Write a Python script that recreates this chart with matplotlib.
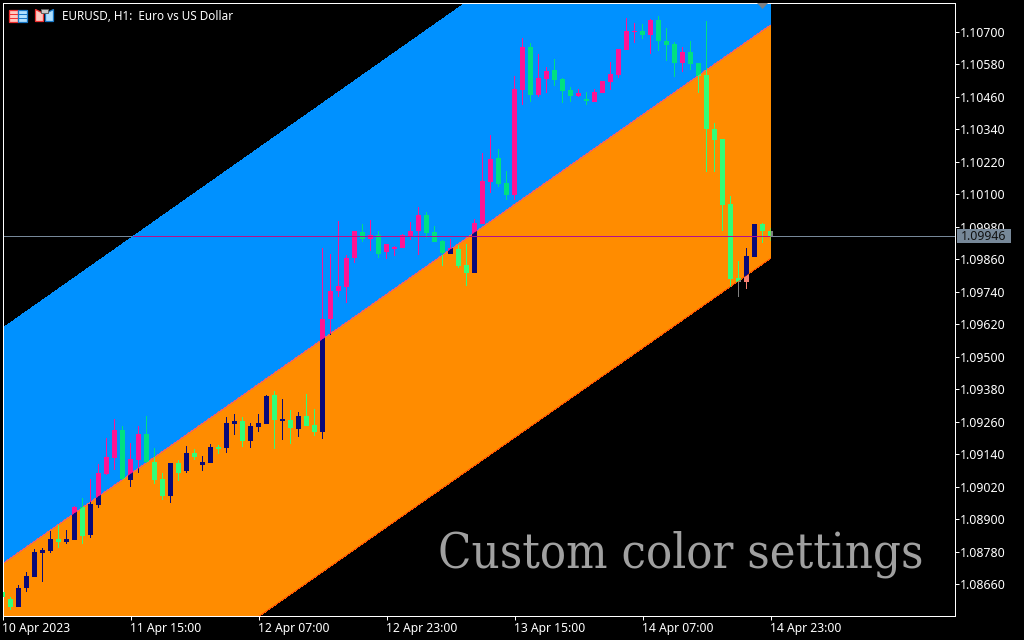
import matplotlib
matplotlib.use('Agg')
import numpy as np
import matplotlib.pyplot as plt
from matplotlib.patches import Rectangle, Polygon

# candle values, bar 0 = 10 Apr 2023
body_top = [1.08630, 1.08605, 1.08645, 1.08690, 1.08778, 1.08786, 1.08826, 1.08826, 1.08826, 1.08945,
            1.08945, 1.08956, 1.09070, 1.09128, 1.09229, 1.09229, 1.09122, 1.09214, 1.09214, 1.09111,
            1.09048, 1.09107, 1.09107, 1.09144, 1.09144, 1.09111, 1.09166, 1.09168, 1.09255, 1.09262,
            1.09262, 1.09244, 1.09255, 1.09355, 1.09359, 1.09270, 1.09266, 1.09281, 1.09281, 1.09248,
            1.09639, 1.09743, 1.09761, 1.09865, 1.09965, 1.09961, 1.09950, 1.09950, 1.09916, 1.09905,
            1.09950, 1.09965, 1.10024, 1.10024, 1.09961, 1.09928, 1.09902, 1.09898, 1.09839, 1.09994,
            1.10149, 1.10230, 1.10234, 1.10142, 1.10489, 1.10644, 1.10644, 1.10530, 1.10556, 1.10559,
            1.10526, 1.10485, 1.10474, 1.10452, 1.10478, 1.10519, 1.10545, 1.10637, 1.10703, 1.10703,
            1.10703, 1.10744, 1.10744, 1.10666, 1.10655, 1.10626, 1.10626, 1.10585, 1.10541, 1.10341,
            1.10304, 1.10064, 1.09791, 1.09872, 1.09990, 1.09990, 1.09965]
body_bot = [1.08611, 1.08575, 1.08575, 1.08645, 1.08686, 1.08775, 1.08782, 1.08815, 1.08815, 1.08823,
            1.08837, 1.08841, 1.08952, 1.09067, 1.09126, 1.09048, 1.09044, 1.09118, 1.09111, 1.09044,
            1.08985, 1.08985, 1.09070, 1.09078, 1.09128, 1.09100, 1.09107, 1.09158, 1.09163, 1.09251,
            1.09188, 1.09188, 1.09240, 1.09251, 1.09266, 1.09262, 1.09237, 1.09233, 1.09244, 1.09222,
            1.09222, 1.09639, 1.09743, 1.09758, 1.09865, 1.09935, 1.09935, 1.09880, 1.09887, 1.09898,
            1.09902, 1.09946, 1.09965, 1.09957, 1.09924, 1.09883, 1.09880, 1.09835, 1.09809, 1.09809,
            1.09990, 1.10145, 1.10138, 1.10097, 1.10097, 1.10485, 1.10467, 1.10467, 1.10526, 1.10522,
            1.10482, 1.10463, 1.10463, 1.10445, 1.10441, 1.10474, 1.10515, 1.10541, 1.10633, 1.10700,
            1.10689, 1.10689, 1.10666, 1.10652, 1.10585, 1.10585, 1.10581, 1.10537, 1.10341, 1.10301,
            1.10060, 1.09787, 1.09776, 1.09776, 1.09869, 1.09965, 1.09946]
highs = [1.08630, 1.08613, 1.08656, 1.08704, 1.08789, 1.08793, 1.08856, 1.08878, 1.08860, 1.08948,
         1.08978, 1.09048, 1.09103, 1.09200, 1.09269, 1.09244, 1.09180, 1.09244, 1.09281, 1.09163,
         1.09070, 1.09107, 1.09118, 1.09170, 1.09159, 1.09133, 1.09177, 1.09174, 1.09277, 1.09288,
         1.09277, 1.09255, 1.09288, 1.09359, 1.09373, 1.09344, 1.09303, 1.09296, 1.09362, 1.09307,
         1.09902, 1.09880, 1.10001, 1.09876, 1.09965, 1.09990, 1.10005, 1.09965, 1.09916, 1.09909,
         1.09953, 1.09998, 1.10053, 1.10035, 1.09983, 1.09931, 1.09935, 1.09913, 1.09916, 1.10009,
         1.10253, 1.10319, 1.10267, 1.10186, 1.10537, 1.10678, 1.10659, 1.10618, 1.10570, 1.10600,
         1.10530, 1.10496, 1.10489, 1.10478, 1.10489, 1.10519, 1.10589, 1.10637, 1.10752, 1.10733,
         1.10729, 1.10748, 1.10759, 1.10714, 1.10663, 1.10644, 1.10666, 1.10585, 1.10740, 1.10363,
         1.10304, 1.10094, 1.09854, 1.09902, 1.09990, 1.09994, 1.09976]
lows = [1.08611, 1.08564, 1.08575, 1.08630, 1.08686, 1.08667, 1.08775, 1.08793, 1.08808, 1.08823,
        1.08808, 1.08830, 1.08941, 1.09063, 1.09081, 1.09044, 1.09018, 1.09070, 1.09106, 1.09030,
        1.08970, 1.08959, 1.09041, 1.09070, 1.09118, 1.09078, 1.09107, 1.09140, 1.09144, 1.09211,
        1.09166, 1.09163, 1.09222, 1.09251, 1.09159, 1.09192, 1.09177, 1.09203, 1.09244, 1.09207,
        1.09196, 1.09580, 1.09721, 1.09698, 1.09846, 1.09924, 1.09891, 1.09865, 1.09861, 1.09872,
        1.09902, 1.09931, 1.09876, 1.09939, 1.09924, 1.09835, 1.09880, 1.09828, 1.09761, 1.09809,
        1.09990, 1.10105, 1.10127, 1.10079, 1.10079, 1.10430, 1.10441, 1.10459, 1.10474, 1.10500,
        1.10437, 1.10441, 1.10459, 1.10430, 1.10441, 1.10474, 1.10485, 1.10530, 1.10633, 1.10659,
        1.10674, 1.10618, 1.10629, 1.10592, 1.10533, 1.10552, 1.10559, 1.10474, 1.10182, 1.10182,
        1.09965, 1.09758, 1.09721, 1.09750, 1.09869, 1.09920, 1.09928]
# 1 = close above open
is_up = [0, 0, 1, 1, 1, 1, 1, 0, 1, 1,
         0, 1, 1, 1, 1, 0, 1, 1, 0, 0,
         0, 1, 0, 1, 0, 1, 1, 0, 1, 1,
         0, 1, 1, 1, 0, 1, 0, 1, 0, 0,
         1, 1, 1, 1, 1, 0, 1, 0, 1, 1,
         1, 1, 1, 0, 0, 0, 1, 0, 0, 1,
         1, 1, 0, 0, 1, 1, 0, 1, 1, 0,
         0, 0, 1, 0, 1, 1, 1, 1, 1, 1,
         0, 1, 0, 0, 0, 1, 0, 0, 0, 0,
         0, 0, 0, 1, 1, 0, 0]

# regression channel at first and last bar
channel_x = [0, 96]
upper = [1.09605, 1.11600]
mid = [1.08735, 1.10726]
lower = [1.07878, 1.09863]

bid = 1.09946
price_ticks = [1.08660, 1.08780, 1.08900, 1.09020, 1.09140, 1.09260, 1.09380, 1.09500, 1.09620,
               1.09740, 1.09860, 1.09980, 1.10100, 1.10220, 1.10340, 1.10460, 1.10580, 1.10700]
time_ticks = [0, 16, 32, 48, 64, 80, 96]
time_labels = ['10 Apr 2023', '11 Apr 15:00', '12 Apr 07:00', '12 Apr 23:00',
               '13 Apr 15:00', '14 Apr 07:00', '14 Apr 23:00']

W, H = 1024, 640
font = 'Noto Sans'


def draw_candles(ax, up_color, down_color, clip=None, z=3):
    x = np.arange(len(highs))
    top = np.array(body_top)
    bot = np.array(body_bot)
    colors = [up_color if u else down_color for u in is_up]
    # one pixel wide wick, five pixel wide body, bars are 8 pixels apart
    wicks = ax.bar(x, np.array(highs) - np.array(lows), bottom=lows, width=0.125, color=colors,
                   antialiased=False, zorder=z)
    bars = ax.bar(x, top - bot, bottom=bot, width=0.625, color=colors, antialiased=False, zorder=z)
    if clip is not None:
        for b in list(wicks) + list(bars):
            b.set_clip_path(clip.get_paths()[0], clip.get_transform())


fig = plt.figure(figsize=(W / 100, H / 100), dpi=100, facecolor='black')
ax = fig.add_axes([2.5 / W, 1 - 616 / H, (954.5 - 2.5) / W, (616 - 2.5) / H], facecolor='black')
ax.set_xlim(0, 119)
ax.set_ylim(1.08542, 1.10809)

# candles outside the channel first, the fills then cover them
draw_candles(ax, '#FA8072', '#808080', z=1)
ax.axhline(bid, color='#778899', lw=0.72, antialiased=False, zorder=1)

blue = ax.fill_between(channel_x, mid, upper, color='#0091FF', lw=0, antialiased=False, zorder=2)
orange = ax.fill_between(channel_x, lower, mid, color='#FF8C00', lw=0, antialiased=False, zorder=2)
draw_candles(ax, '#FF1493', '#00E080', clip=blue)
draw_candles(ax, '#0A0A78', '#33FF77', clip=orange)

ax.plot(channel_x, mid, color='#D838E8', lw=0.45, zorder=2.5)
ax.plot(channel_x, lower, color='#FF1800', lw=0.4, zorder=2.5)
for zone in (blue, orange):
    ln = ax.axhline(bid, color='#B4108C', lw=0.72, antialiased=False, zorder=4)
    ln.set_clip_path(zone.get_paths()[0], zone.get_transform())

for s in ax.spines.values():
    s.set_color('white')
    s.set_linewidth(0.72)
ax.yaxis.tick_right()
ax.set_yticks(price_ticks)
ax.set_yticklabels(['%.5f' % p for p in price_ticks], fontsize=8.9, family=font, color='white')
ax.set_xticks(time_ticks)
ax.set_xticklabels(time_labels, fontsize=8.8, family=font, color='white', ha='left')
ax.tick_params(axis='y', colors='white', length=3, width=0.72, pad=1)
ax.tick_params(axis='x', colors='white', length=3, width=0.72, pad=1.5)

# overlay in pixel coordinates for the terminal decorations
pix = fig.add_axes([0, 0, 1, 1], facecolor='none')
pix.set_xlim(0, W)
pix.set_ylim(H, 0)
pix.axis('off')

pix.add_patch(Rectangle((957, 229), 54, 14, fc='#778899', ec='none'))
pix.text(984, 236.5, '%.5f' % bid, fontsize=8.9, family=font, color='#111111', ha='center', va='center')
pix.add_patch(Polygon([(757, 3), (768, 3), (762.5, 9)], fc='#808080', ec='none'))

pix.text(62, 17, 'EURUSD, H1:  Euro vs US Dollar', fontsize=8.45, family=font, color='white', va='center')
pix.text(924, 568, 'Custom color settings', fontsize=35, family='DejaVu Serif', stretch='condensed',
         color='#A0A0A0', ha='right', va='baseline')

# chart icons
pix.add_patch(Rectangle((8.5, 9.5), 9, 12, fc='#FFC8C0', ec='#F03030', lw=0.9))
pix.add_patch(Rectangle((17.5, 9.5), 9, 12, fc='#B0E0FF', ec='#1878C8', lw=0.9))
for yy in (13.5, 17.5):
    pix.plot([9, 17], [yy, yy], color='#F03030', lw=0.72)
    pix.plot([18, 26], [yy, yy], color='#1878C8', lw=0.72)
pix.add_patch(Polygon([(35.5, 9.5), (43.5, 13.5), (43.5, 21.5), (35.5, 21.5)], fc='#FFC8C0', ec='#F03030', lw=0.9))
pix.add_patch(Polygon([(53.5, 9.5), (45.5, 13.5), (45.5, 21.5), (53.5, 21.5)], fc='#B0E0FF', ec='#1878C8', lw=0.9))
pix.add_patch(Rectangle((41, 9), 7, 4, fc='#C8C8C8', ec='#606060', lw=0.7))

fig.savefig('out.png', dpi=100, facecolor='black')
